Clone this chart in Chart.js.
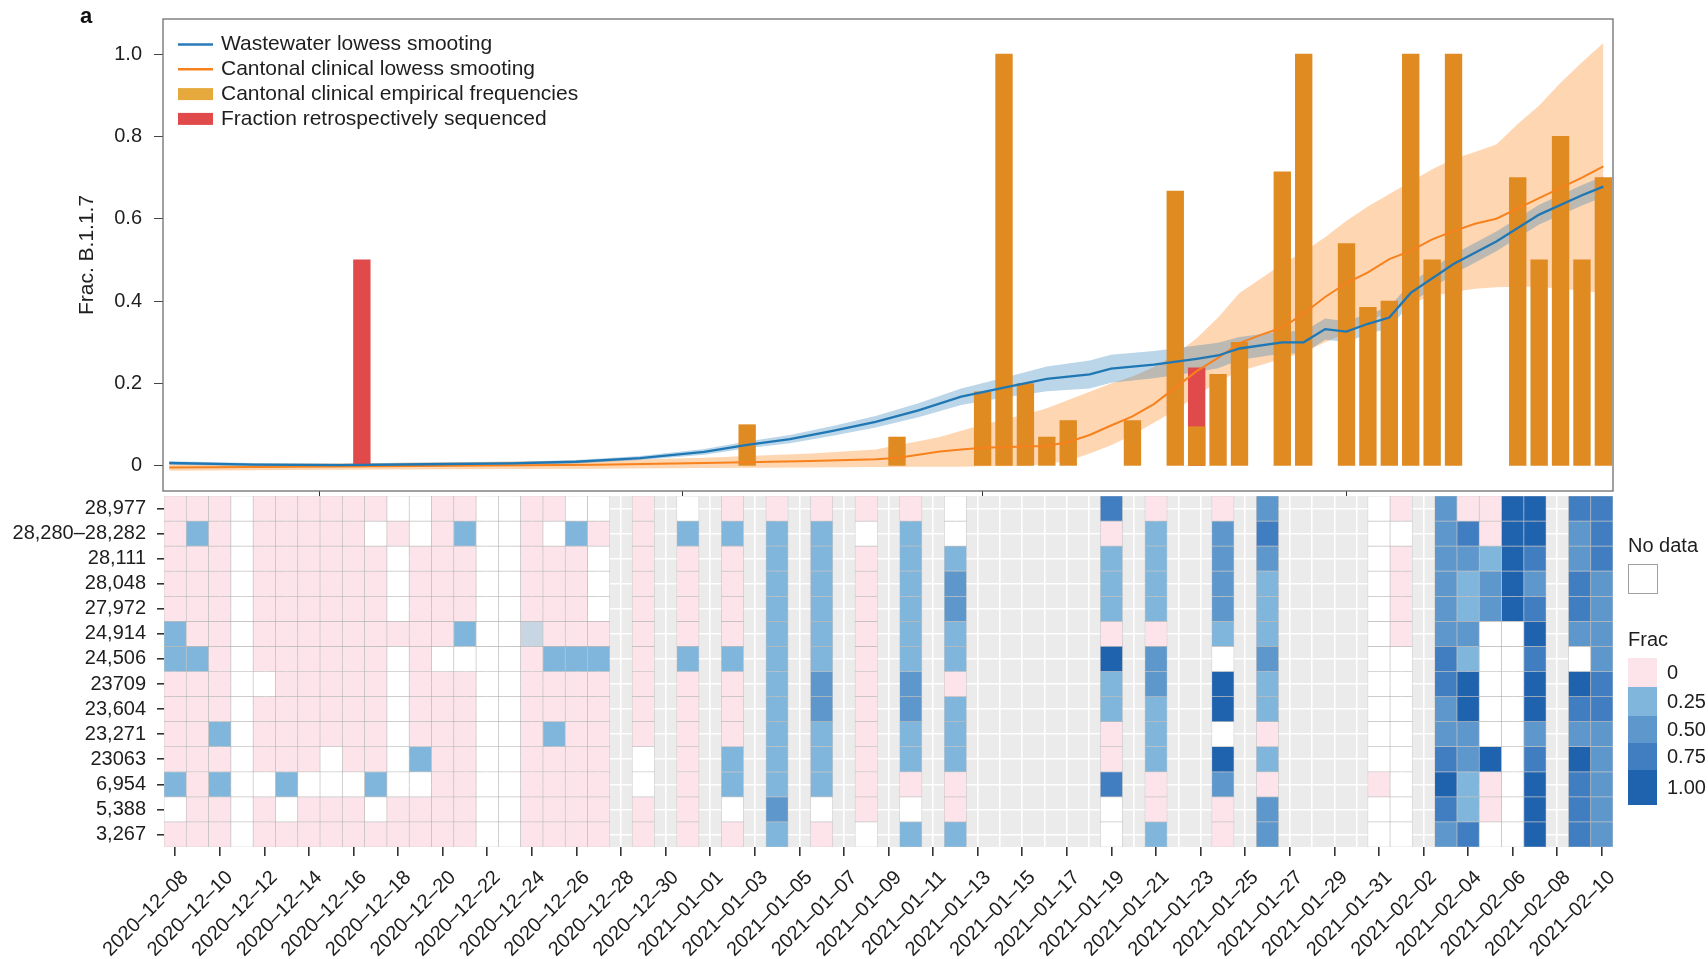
<!DOCTYPE html>
<html>
<head>
  <meta charset="UTF-8">
  <title>Frac. B.1.1.7 – wastewater vs clinical</title>
  <script src="https://cdn.jsdelivr.net/npm/chart.js"></script>
  <style>
    body {
      margin: 0;
      background: #fff;
      font-family: "Liberation Sans", Arial, Helvetica, sans-serif;
    }
    #wrap { position: relative; width: 1708px; height: 959px; }
    #heatChart { position: absolute; left: 0; top: 490px; }
    #topChart { position: absolute; left: 0; top: 0; }
    #panelTag {
      position: absolute; left: 80px; top: 3px;
      font: bold 22px "Liberation Sans", Arial, sans-serif; color: #111;
    }
  </style>
</head>
<body>
<div id="wrap">
  <canvas id="heatChart" width="1708" height="469"></canvas>
  <canvas id="topChart" width="1708" height="500"></canvas>
  <div id="panelTag">a</div>
</div>

<script>
  const FONT = '"Liberation Sans", Arial, Helvetica, sans-serif';
  Chart.defaults.font.family = FONT;
  Chart.defaults.color = '#1e1e1e';

  // ---------- top panel (x = days after 2020-12-08) ----------
  const wwDays = [0, 4, 8, 12, 16, 19, 22, 25, 27, 29, 31, 33, 35, 37, 39, 41, 43, 44, 46, 48, 49, 50, 52, 53, 54, 55, 56, 57, 58, 60, 62, 64, 66, 67];
  const wwFrac = [0.007, 0.003, 0.002, 0.004, 0.006, 0.01, 0.019, 0.034, 0.051, 0.065, 0.085, 0.107, 0.135, 0.168, 0.19, 0.211, 0.222, 0.236, 0.246, 0.26, 0.268, 0.285, 0.30, 0.30, 0.332, 0.326, 0.345, 0.36, 0.42, 0.49, 0.545, 0.61, 0.657, 0.678];
  const wwLow  = [0.003, -0.001, -0.002, 0.0, 0.002, 0.006, 0.014, 0.027, 0.043, 0.055, 0.073, 0.093, 0.118, 0.148, 0.166, 0.181, 0.188, 0.202, 0.213, 0.228, 0.237, 0.257, 0.273, 0.273, 0.306, 0.301, 0.32, 0.335, 0.395, 0.466, 0.521, 0.586, 0.632, 0.653];
  const wwHigh = [0.011, 0.007, 0.006, 0.008, 0.010, 0.014, 0.024, 0.041, 0.059, 0.075, 0.097, 0.121, 0.152, 0.188, 0.214, 0.241, 0.256, 0.27, 0.279, 0.292, 0.299, 0.313, 0.327, 0.327, 0.358, 0.351, 0.37, 0.385, 0.445, 0.514, 0.569, 0.634, 0.682, 0.703];

  const clDays = [0, 10, 20, 25, 30, 33, 34, 35, 36, 37, 38, 40, 41, 42, 43, 44, 45, 46, 47, 48, 49, 50, 51, 52, 53, 54, 55, 56, 57, 58, 59, 60, 61, 62, 63, 64, 65, 66, 67];
  const clFrac = [-0.004, -0.001, 0.003, 0.007, 0.012, 0.016, 0.019, 0.027, 0.035, 0.04, 0.044, 0.047, 0.048, 0.058, 0.075, 0.098, 0.12, 0.15, 0.19, 0.23, 0.262, 0.298, 0.318, 0.336, 0.37, 0.41, 0.444, 0.47, 0.502, 0.522, 0.55, 0.57, 0.588, 0.6, 0.625, 0.65, 0.675, 0.7, 0.727];
  const clLow  = [-0.012, -0.009, -0.007, -0.005, -0.004, -0.003, -0.003, -0.002, -0.002, -0.002, -0.001, 0.0, 0.005, 0.012, 0.03, 0.05, 0.075, 0.105, 0.135, 0.17, 0.205, 0.23, 0.245, 0.26, 0.275, 0.3, 0.322, 0.35, 0.375, 0.395, 0.412, 0.422, 0.43, 0.434, 0.435, 0.435, 0.43, 0.425, 0.42];
  const clHigh = [0.004, 0.007, 0.013, 0.02, 0.03, 0.04, 0.05, 0.06, 0.07, 0.085, 0.1, 0.125, 0.14, 0.16, 0.18, 0.2, 0.217, 0.24, 0.27, 0.31, 0.36, 0.42, 0.455, 0.49, 0.52, 0.555, 0.595, 0.63, 0.66, 0.69, 0.72, 0.745, 0.762, 0.78, 0.83, 0.875, 0.93, 0.98, 1.027];

  const empDays = [27, 34, 38, 39, 40, 41, 42, 45, 47, 48, 49, 50, 52, 53, 55, 56, 57, 58, 59, 60, 63, 64, 65, 66, 67];
  const empFrac = [0.10, 0.07, 0.18, 1.0, 0.20, 0.07, 0.11, 0.11, 0.667, 0.095, 0.222, 0.30, 0.714, 1.0, 0.54, 0.385, 0.40, 1.0, 0.5, 1.0, 0.70, 0.5, 0.8, 0.5, 0.70];

  const retroDays = [9, 48];
  const retroFrac = [0.5, 0.238];

  const topTickDays = [7, 24, 38, 55];          // Dec 15, Jan 1, Jan 15, Feb 1
  const fracTicks = [0, 0.2, 0.4, 0.6, 0.8, 1.0];

  // ---------- heatmap (bottom panel) ----------
  const sampleDates = [
    '2020–12–08','2020–12–09','2020–12–10','2020–12–11','2020–12–12','2020–12–13','2020–12–14','2020–12–15',
    '2020–12–16','2020–12–17','2020–12–18','2020–12–19','2020–12–20','2020–12–21','2020–12–22','2020–12–23',
    '2020–12–24','2020–12–25','2020–12–26','2020–12–27','2020–12–28','2020–12–29','2020–12–30','2020–12–31',
    '2021–01–01','2021–01–02','2021–01–03','2021–01–04','2021–01–05','2021–01–06','2021–01–07','2021–01–08',
    '2021–01–09','2021–01–10','2021–01–11','2021–01–12','2021–01–13','2021–01–14','2021–01–15','2021–01–16',
    '2021–01–17','2021–01–18','2021–01–19','2021–01–20','2021–01–21','2021–01–22','2021–01–23','2021–01–24',
    '2021–01–25','2021–01–26','2021–01–27','2021–01–28','2021–01–29','2021–01–30','2021–01–31','2021–02–01',
    '2021–02–02','2021–02–03','2021–02–04','2021–02–05','2021–02–06','2021–02–07','2021–02–08','2021–02–09',
    '2021–02–10'
  ];
  const mutations = ['28,977', '28,280–28,282', '28,111', '28,048', '27,972', '24,914', '24,506',
                     '23709', '23,604', '23,271', '23063', '6,954', '5,388', '3,267'];

  // one string per sample date, mutations top to bottom
  // 0 = 0, g = 0.1, 1 = 0.25, 2 = 0.5, 3 = 0.75, 4 = 1, w = no data; null = no sample
  const dayCells = [
    '000001100001w0', '01000010000000', '00000000010100', 'wwwwwwwwwwwwww', '0000000w000w00',
    '000000000001w0', '00000000000w00', '0000000000ww00', '00000000000w00', '0w0000000001w0',
    'w0www0wwwwww00', 'ww000000001w00', '000000w0000000', '010001w0000000', 'wwwwwwwwwwwwww',
    'wwwwwwwwwwwwww', '00000g00000000', '0w000010010000', 'w1000010000000', 'w0www010000000',
    null, '0000000000ww00', null, 'w1000010000000', null,
    '010000100011w0', null, '01111111111121', null, '011111122111w0',
    null, '0w00000000000w', null, '011111122110w1', null,
    'ww122110111001', null, null, null, null,
    null, null, '301110411003ww', null, '01111022111001',
    null, null, '022221w44w4200', null, '23211121101022',
    null, null, null, null, 'wwwwwwwwwww0ww',
    '0w0000wwwwwwww', null, '22222233223432', '03211214422113', '00122wwwww400w',
    '44444wwwwwwwww', '44323434423444', null, '322332w4324333', '33322223322222'
  ];
  const fracOfCode = { '0': 0, 'g': 0.1, '1': 0.25, '2': 0.5, '3': 0.75, '4': 1 };

  const fracKeys = [0, 0.25, 0.5, 0.75, 1];
  const fracKeyLabels = ['0', '0.25', '0.50', '0.75', '1.00'];

  // ---------- colours ----------
  const BLUE = '#1f77b4';
  const ORANGE = '#f7811c';
  const BAR = '#e08a22';
  const RED = '#e14a4a';
  const PINK = '#fce4ea';
  const blueStops = [[0.1, [200, 214, 228]], [0.25, [128, 182, 219]], [0.5, [93, 151, 204]],
                     [0.75, [65, 126, 193]], [1, [31, 98, 174]]];

  function fracColor(v) {
    if (v === 0) return PINK;
    for (let i = 1; i < blueStops.length; i++) {
      if (v <= blueStops[i][0]) {
        const [a, ca] = blueStops[i - 1], [b, cb] = blueStops[i];
        const t = Math.max(0, (v - a) / (b - a));
        const c = ca.map((x, k) => Math.round(x + (cb[k] - x) * t));
        return 'rgb(' + c.join(',') + ')';
      }
    }
    return 'rgb(31,98,174)';
  }
  function cellColor(code) {
    return code === 'w' ? '#ffffff' : fracColor(fracOfCode[code]);
  }

  const legendEntries = [
    { label: 'Wastewater lowess smooting', color: '#2a7ab8', kind: 'line' },
    { label: 'Cantonal clinical lowess smooting', color: ORANGE, kind: 'line' },
    { label: 'Cantonal clinical empirical frequencies', color: '#e6a93c', kind: 'box' },
    { label: 'Fraction retrospectively sequenced', color: RED, kind: 'box' }
  ];

  const pts = (xs, ys) => xs.map((x, i) => ({ x: x, y: ys[i] }));

  // keep the plot areas where they are: no extra room for tick label overflow
  const noOverflow = s => { s.paddingTop = 0; s.paddingBottom = 0; s.paddingLeft = 0; s.paddingRight = 0; };

  // frame + legend drawn inside the top panel
  const frameAndLegend = {
    id: 'frameAndLegend',
    afterDraw(chart) {
      const { ctx, chartArea: a } = chart;
      ctx.save();
      ctx.strokeStyle = '#6e6e6e';
      ctx.lineWidth = 1.3;
      ctx.strokeRect(a.left, a.top, a.right - a.left, a.bottom - a.top);
      ctx.font = '21px ' + FONT;
      ctx.textBaseline = 'middle';
      legendEntries.forEach((e, i) => {
        const y = a.top + 25.5 + i * 24.8;
        if (e.kind === 'line') {
          ctx.strokeStyle = e.color;
          ctx.lineWidth = 2.5;
          ctx.beginPath();
          ctx.moveTo(a.left + 15, y);
          ctx.lineTo(a.left + 50, y);
          ctx.stroke();
        } else {
          ctx.fillStyle = e.color;
          ctx.fillRect(a.left + 15, y - 6, 35, 12);
        }
        ctx.fillStyle = '#1e1e1e';
        ctx.fillText(e.label, a.left + 58, y);
      });
      ctx.restore();
    }
  };

  new Chart(document.getElementById('topChart'), {
    type: 'bar',
    data: {
      datasets: [
        { type: 'line', label: 'clinical low', data: pts(clDays, clLow), borderColor: 'transparent',
          borderWidth: 0, pointRadius: 0, fill: false, order: 12 },
        { type: 'line', label: 'clinical high', data: pts(clDays, clHigh), borderColor: 'transparent',
          borderWidth: 0, pointRadius: 0, fill: '-1', backgroundColor: 'rgba(255,127,14,0.32)', order: 12 },
        { type: 'line', label: 'wastewater low', data: pts(wwDays, wwLow), borderColor: 'transparent',
          borderWidth: 0, pointRadius: 0, fill: false, order: 11 },
        { type: 'line', label: 'wastewater high', data: pts(wwDays, wwHigh), borderColor: 'transparent',
          borderWidth: 0, pointRadius: 0, fill: '-1', backgroundColor: 'rgba(31,119,180,0.3)', order: 11 },
        { type: 'bar', label: 'Fraction retrospectively sequenced', data: pts(retroDays, retroFrac),
          backgroundColor: RED, order: 6 },
        { type: 'bar', label: 'Cantonal clinical empirical frequencies', data: pts(empDays, empFrac),
          backgroundColor: BAR, order: 5 },
        { type: 'line', label: 'Cantonal clinical lowess smooting', data: pts(clDays, clFrac),
          borderColor: ORANGE, borderWidth: 2, pointRadius: 0, fill: false, order: 2 },
        { type: 'line', label: 'Wastewater lowess smooting', data: pts(wwDays, wwFrac),
          borderColor: BLUE, borderWidth: 2.3, pointRadius: 0, fill: false, order: 1 }
      ]
    },
    options: {
      responsive: false,
      animation: false,
      layout: { padding: { left: 0, right: 95, top: 19, bottom: 0 } },
      datasets: { bar: { barThickness: 16.7, grouped: false } },
      plugins: { legend: { display: false }, tooltip: { enabled: false } },
      scales: {
        x: {
          type: 'linear', min: -0.29, max: 67.45, offset: false,
          afterBuildTicks: s => { s.ticks = topTickDays.map(v => ({ value: v })); },
          afterFit: s => { s.height = 9; noOverflow(s); },
          grid: { offset: false, drawOnChartArea: false, drawTicks: true, tickLength: 5, tickColor: '#333' },
          border: { display: false },
          ticks: { autoSkip: false, callback: () => '', padding: 0 }
        },
        y: {
          min: -0.061, max: 1.085,
          afterBuildTicks: s => { s.ticks = fracTicks.map(v => ({ value: v })); },
          afterFit: s => { s.width = 163; noOverflow(s); },
          grid: { drawOnChartArea: false, drawTicks: true, tickLength: 9, tickColor: '#444' },
          border: { display: false },
          ticks: {
            autoSkip: false, padding: 12, color: '#1e1e1e', font: { size: 20 },
            callback: v => (v === 0 ? '0' : v.toFixed(1))
          },
          title: {
            display: true, text: 'Frac. B.1.1.7', color: '#1e1e1e',
            font: { size: 21 }, padding: { top: 75, bottom: 0 }
          }
        }
      }
    },
    plugins: [frameAndLegend]
  });

  // grey panel background behind the tiles
  const heatBackground = {
    id: 'heatBackground',
    beforeDraw(chart) {
      const { ctx, chartArea: a } = chart;
      ctx.save();
      ctx.fillStyle = '#ebebeb';
      ctx.fillRect(a.left, a.top, a.right - a.left, a.bottom - a.top);
      ctx.restore();
    }
  };

  // "No data" and "Frac" keys on the right
  const heatLegend = {
    id: 'heatLegend',
    afterDraw(chart) {
      const ctx = chart.ctx;
      const x0 = 1628;
      ctx.save();
      ctx.font = '20px ' + FONT;
      ctx.textBaseline = 'middle';
      ctx.textAlign = 'left';
      ctx.fillStyle = '#1e1e1e';
      ctx.fillText('No data', x0, 56);
      ctx.fillStyle = '#ffffff';
      ctx.fillRect(x0, 74, 29, 29);
      ctx.strokeStyle = '#a0a0a0';
      ctx.lineWidth = 1;
      ctx.strokeRect(x0 + 0.5, 74.5, 29, 29);
      ctx.fillStyle = '#1e1e1e';
      ctx.fillText('Frac', x0, 150);
      const bounds = [168, 197, 226, 253, 280, 315];
      fracKeys.forEach((v, i) => {
        ctx.fillStyle = fracColor(v);
        ctx.fillRect(x0, bounds[i], 29, bounds[i + 1] - bounds[i]);
        ctx.fillStyle = '#1e1e1e';
        ctx.fillText(fracKeyLabels[i], x0 + 39, (bounds[i] + bounds[i + 1]) / 2 + 1);
      });
      ctx.restore();
    }
  };

  const heatDatasets = mutations.map((name, r) => ({
    label: name,
    data: dayCells.map(col => (col ? [13 - r, 14 - r] : null)),
    backgroundColor: dayCells.map(col => (col ? cellColor(col[r]) : 'rgba(0,0,0,0)'))
  }));

  new Chart(document.getElementById('heatChart'), {
    type: 'bar',
    data: { labels: sampleDates, datasets: heatDatasets },
    options: {
      responsive: false,
      animation: false,
      layout: { padding: { left: 0, right: 95, top: 6, bottom: 0 } },
      datasets: {
        bar: {
          grouped: false, barPercentage: 1, categoryPercentage: 1,
          borderWidth: 0.7, borderColor: 'rgba(150,150,150,0.4)', borderSkipped: false
        }
      },
      plugins: { legend: { display: false }, tooltip: { enabled: false } },
      scales: {
        x: {
          type: 'category', offset: true,
          afterFit: s => { s.height = 112; noOverflow(s); },
          grid: {
            offset: false, color: '#ffffff', lineWidth: 1.6, drawTicks: true, tickLength: 9,
            tickColor: c => (c.index % 2 === 0 ? '#333' : 'rgba(0,0,0,0)')
          },
          border: { display: false },
          ticks: {
            autoSkip: false, minRotation: 45, maxRotation: 45, padding: 10, labelOffset: 10,
            color: '#1e1e1e', font: { size: 20 },
            callback: (v, i) => (i % 2 === 0 ? sampleDates[i] : '')
          }
        },
        y: {
          type: 'linear', min: 0, max: 14,
          afterBuildTicks: s => { s.ticks = mutations.map((_, r) => ({ value: 13.5 - r })); },
          afterFit: s => { s.width = 164; noOverflow(s); },
          grid: { color: '#ffffff', lineWidth: 1.6, drawTicks: true, tickLength: 7, tickColor: '#333' },
          border: { display: false },
          ticks: {
            autoSkip: false, padding: 11, color: '#1e1e1e', font: { size: 20 },
            callback: v => mutations[Math.round(13.5 - v)]
          }
        }
      }
    },
    plugins: [heatBackground, heatLegend]
  });
</script>
</body>
</html>
